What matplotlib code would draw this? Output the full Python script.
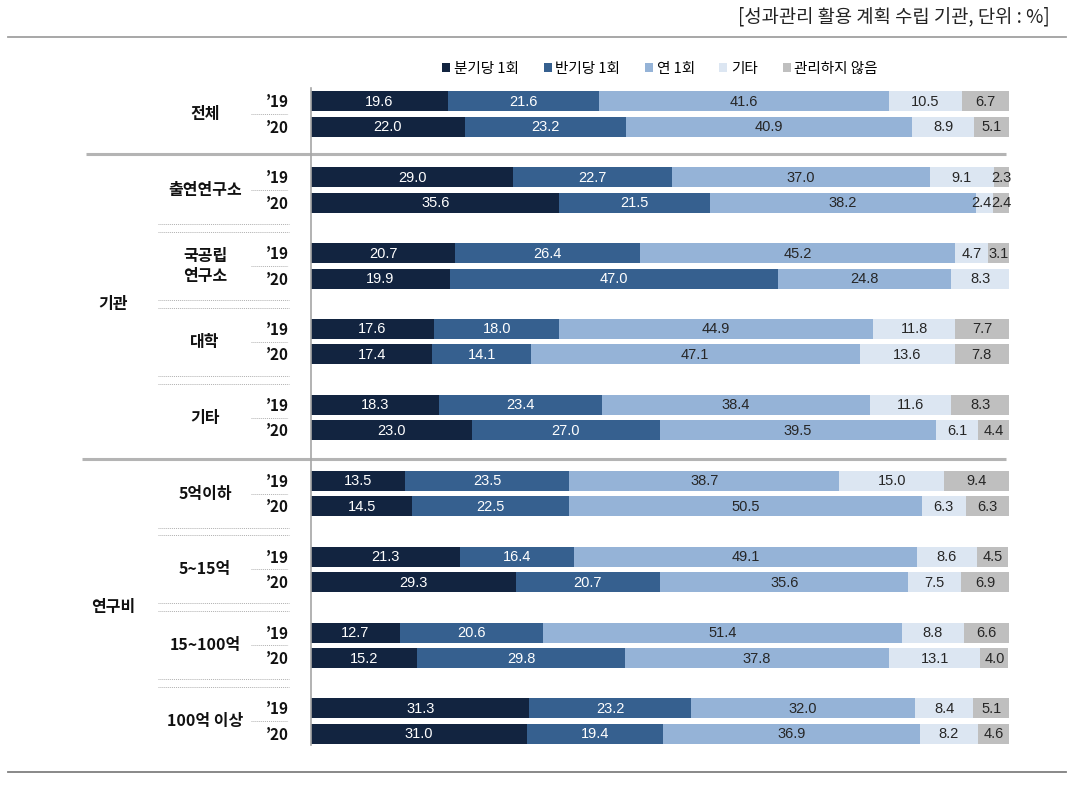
import matplotlib
matplotlib.use("Agg")
import matplotlib.pyplot as plt
from matplotlib.patches import Patch
import numpy as np

plt.rcParams['font.family'] = ['Noto Sans CJK KR', 'DejaVu Sans']

# ---- data ----
series = ['분기당 1회', '반기당 1회', '연 1회', '기타', '관리하지 않음']
colors = ['#122440', '#36608F', '#95B3D7', '#DCE6F2', '#BFBFBF']
text_colors = ['white', 'white', '#262626', '#262626', '#262626']

groups = ['전체', '출연연구소', '국공립\n연구소', '대학', '기타',
          '5억이하', '5~15억', '15~100억', '100억 이상']
years = ['’19', '’20']
sections = ['기관', '연구비']
section_groups = [[1, 2, 3, 4], [5, 6, 7, 8]]

quarterly = [[19.6, 22.0], [29.0, 35.6], [20.7, 19.9], [17.6, 17.4], [18.3, 23.0],
             [13.5, 14.5], [21.3, 29.3], [12.7, 15.2], [31.3, 31.0]]
half = [[21.6, 23.2], [22.7, 21.5], [26.4, 47.0], [18.0, 14.1], [23.4, 27.0],
        [23.5, 22.5], [16.4, 20.7], [20.6, 29.8], [23.2, 19.4]]
yearly = [[41.6, 40.9], [37.0, 38.2], [45.2, 24.8], [44.9, 47.1], [38.4, 39.5],
          [38.7, 50.5], [49.1, 35.6], [51.4, 37.8], [32.0, 36.9]]
other = [[10.5, 8.9], [9.1, 2.4], [4.7, 8.3], [11.8, 13.6], [11.6, 6.1],
         [15.0, 6.3], [8.6, 7.5], [8.8, 13.1], [8.4, 8.2]]
none_ = [[6.7, 5.1], [2.3, 2.4], [3.1, 0.0], [7.7, 7.8], [8.3, 4.4],
         [9.4, 6.3], [4.5, 6.9], [6.6, 4.0], [5.1, 4.6]]

# ---- layout (pixel-based) ----
W, H = 1074, 794
fig = plt.figure(figsize=(W / 100, H / 100), dpi=100)

ov = fig.add_axes([0, 0, 1, 1])
ov.set_xlim(0, W)
ov.set_ylim(H, 0)
ov.axis('off')

x0, x1 = 311, 1009
ytop, ybot = 88, 745
ax = fig.add_axes([x0 / W, 1 - ybot / H, (x1 - x0) / W, (ybot - ytop) / H])
ax.set_xlim(0, 100)
ax.set_ylim(ybot, ytop)
ax.patch.set_visible(False)
for s in ['top', 'right', 'bottom']:
    ax.spines[s].set_visible(False)
ax.spines['left'].set_color('#A6A6A6')
ax.spines['left'].set_linewidth(1.2)
ax.set_xticks([])
ax.set_yticks([])

g0, gstep, roff = 114.0, 75.9, 12.75
centers = [g0 + gstep * i for i in range(len(groups))]
label_w = 2.9  # approx label width in % units

data = [quarterly, half, yearly, other, none_]
for gi, c in enumerate(centers):
    for yi in range(2):
        y = c - roff if yi == 0 else c + roff
        left = 0.0
        labels = []
        for si in range(5):
            v = data[si][gi][yi]
            if v > 0:
                ax.barh(y, v, left=left, height=20, color=colors[si], edgecolor='none')
                labels.append([left + v / 2, v, si])
            left += v
        # nudge crowded labels leftwards so they just touch
        for k in range(len(labels) - 1, 0, -1):
            if labels[k][0] - labels[k - 1][0] < label_w:
                labels[k - 1][0] = labels[k][0] - label_w
        for xc, v, si in labels:
            ax.text(xc, y + 0.5, f'{v:.1f}', ha='center', va='center',
                    fontsize=10.5, color=text_colors[si], family='Liberation Sans')
        ov.text(289, y + 1, years[yi], ha='right', va='center', fontsize=11,
                fontweight='bold', color='#111111')
    # short dotted between years
    ov.plot([251, 288], [c, c], color='#B0B0B0', lw=0.7, ls=(0, (1, 1)))
    ov.text(205, c, groups[gi], ha='center', va='center', fontsize=11.5,
            fontweight='bold', color='#111111', linespacing=1.3)

# long dotted lines between groups within sections
for sg in section_groups:
    for a, b in zip(sg[:-1], sg[1:]):
        for yy in (centers[a] + 34, centers[b] - 34):
            ov.plot([158, 289], [yy, yy], color='#B0B0B0', lw=0.7, ls=(0, (1, 1)))

# section labels
for name, sg in zip(sections, section_groups):
    yc = (centers[sg[0]] + centers[sg[-1]]) / 2
    ov.text(113, yc, name, ha='center', va='center', fontsize=11.5,
            fontweight='bold', color='#111111')

# separators
ov.plot([86, 1006], [153.5, 153.5], color='#B4B4B4', lw=2.2, solid_capstyle='butt')
ov.plot([82, 1006], [458.5, 458.5], color='#B4B4B4', lw=2.2, solid_capstyle='butt')
ov.plot([8, 1066], [37, 37], color='#A0A0A0', lw=1.3)
ov.plot([8, 1066], [772, 772], color='#7F7F7F', lw=1.3)

# header
ov.text(1050, 17, '[성과관리 활용 계획 수립 기관, 단위 : %]', ha='right', va='center',
        fontsize=13.5, color='#222222')

# legend
handles = [Patch(facecolor=c, edgecolor='none', label=l) for c, l in zip(colors, series)]
fig.legend(handles=handles, loc='center', bbox_to_anchor=(660 / W, 1 - 69 / H),
           ncol=5, frameon=False, fontsize=10.5, handlelength=0.55, handleheight=0.55,
           handletextpad=0.25, columnspacing=1.7, borderpad=0)

fig.savefig('out.png', dpi=100)
